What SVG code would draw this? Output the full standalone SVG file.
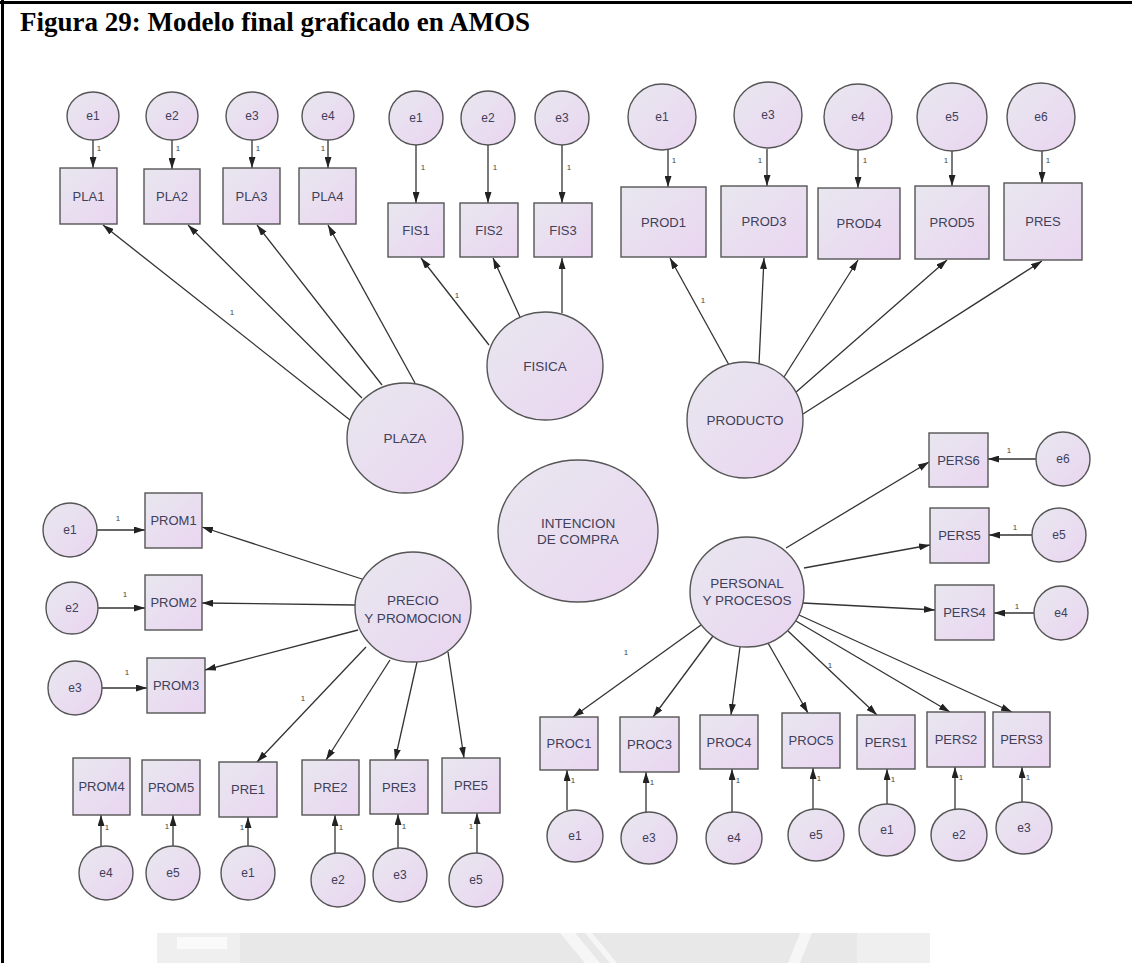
<svg xmlns="http://www.w3.org/2000/svg" width="1132" height="963" viewBox="0 0 1132 963">
  <defs>
    <linearGradient id="fillNode" x1="0" y1="0" x2="1" y2="1">
      <stop offset="0" stop-color="#e8e7ef"/>
      <stop offset="1" stop-color="#ead5f1"/>
    </linearGradient>
    <marker id="ah" markerUnits="userSpaceOnUse" markerWidth="11" markerHeight="7" refX="11" refY="3.5" orient="auto">
      <path d="M0,0 L11,3.5 L0,7 Z" fill="#222"/>
    </marker>
    <style>
      .lat { fill: url(#fillNode); stroke: #555; stroke-width: 1.4; }
      .obs { fill: url(#fillNode); stroke: #555; stroke-width: 1.4; }
      .err { fill: url(#fillNode); stroke: #555; stroke-width: 1.4; }
      .t { font-family: "Liberation Sans", Arial, sans-serif; fill: #40405a; text-anchor: middle; dominant-baseline: central; }
      .tb { font-size: 13px; }
      .tl { font-size: 13.5px; }
      .te { font-size: 12px; }
      .one { font-family: "Liberation Sans", Arial, sans-serif; font-size: 8px; fill: #444; text-anchor: middle; dominant-baseline: central; }
      .c line { stroke: #333; stroke-width: 1.3; marker-end: url(#ah); }
      .title { font-family: "Liberation Serif", "Times New Roman", serif; font-weight: bold; font-size: 27px; fill: #000; }
    </style>
  </defs>

  <rect width="1132" height="963" fill="#ffffff"/>

  <!-- faint watermark at the foot of the page -->
  <g id="watermark">
    <rect x="157" y="933" width="83" height="30" fill="#efefef"/>
    <rect x="177" y="937" width="50" height="12" fill="#fafafa"/>
    <rect x="240" y="933" width="690" height="30" fill="#e8e8e8"/>
    <path d="M560,933 L575,933 L600,963 L585,963 Z M585,933 L592,933 L617,963 L610,963 Z M800,933 L812,933 L800,963 L788,963 Z" fill="#f6f6f6"/>
    <rect x="857" y="933" width="73" height="30" fill="#efefef"/>
  </g>

  <!-- page frame -->
  <rect x="0" y="1" width="1132" height="3" fill="#000"/>
  <rect x="1" y="0" width="3" height="963" fill="#000"/>

  <text class="title" x="20" y="31">Figura 29: Modelo final graficado en AMOS</text>

  <!-- connectors -->
  <g id="connectors" class="c">
    <!-- PLAZA -->
    <line x1="93" y1="140" x2="93" y2="168"/>
    <line x1="172" y1="140" x2="172" y2="169"/>
    <line x1="252" y1="140" x2="252" y2="168"/>
    <line x1="328" y1="140" x2="328" y2="168"/>
    <line x1="350" y1="420" x2="103" y2="225"/>
    <line x1="362" y1="398" x2="188" y2="225"/>
    <line x1="382" y1="385" x2="257" y2="225"/>
    <line x1="415" y1="383" x2="328" y2="225"/>
    <!-- FISICA -->
    <line x1="416" y1="145" x2="416" y2="203"/>
    <line x1="488" y1="145" x2="488" y2="203"/>
    <line x1="562" y1="145" x2="562" y2="203"/>
    <line x1="489" y1="345" x2="421" y2="258"/>
    <line x1="520" y1="317" x2="493" y2="258"/>
    <line x1="562" y1="313" x2="562" y2="258"/>
    <!-- PRODUCTO -->
    <line x1="668" y1="150" x2="668" y2="187"/>
    <line x1="767" y1="149" x2="767" y2="186"/>
    <line x1="858" y1="150" x2="858" y2="188"/>
    <line x1="952" y1="151" x2="952" y2="186"/>
    <line x1="1042" y1="151" x2="1042" y2="183"/>
    <line x1="729" y1="365" x2="670" y2="258"/>
    <line x1="759" y1="364" x2="764" y2="258"/>
    <line x1="784" y1="377" x2="858" y2="260"/>
    <line x1="795" y1="393" x2="947" y2="260"/>
    <line x1="803" y1="414" x2="1042" y2="261"/>
    <!-- PERSONAL Y PROCESOS -->
    <line x1="1036" y1="459" x2="988" y2="459"/>
    <line x1="1032" y1="535" x2="989" y2="535"/>
    <line x1="1034" y1="613" x2="994" y2="613"/>
    <line x1="786" y1="548" x2="929" y2="462"/>
    <line x1="804" y1="568" x2="930" y2="545"/>
    <line x1="803" y1="603" x2="935" y2="610"/>
    <line x1="701" y1="625" x2="573" y2="717"/>
    <line x1="713" y1="636" x2="653" y2="717"/>
    <line x1="740" y1="647" x2="731" y2="715"/>
    <line x1="768" y1="643" x2="808" y2="713"/>
    <line x1="788" y1="631" x2="877" y2="715"/>
    <line x1="796" y1="621" x2="950" y2="712"/>
    <line x1="799" y1="615" x2="1012" y2="712"/>
    <line x1="567" y1="810" x2="567" y2="770"/>
    <line x1="646" y1="812" x2="646" y2="772"/>
    <line x1="732" y1="812" x2="732" y2="769"/>
    <line x1="813" y1="809" x2="813" y2="768"/>
    <line x1="887" y1="804" x2="887" y2="769"/>
    <line x1="955" y1="809" x2="955" y2="767"/>
    <line x1="1022" y1="802" x2="1022" y2="767"/>
    <!-- PRECIO Y PROMOCION -->
    <line x1="97" y1="530" x2="145" y2="530"/>
    <line x1="98" y1="608" x2="145" y2="608"/>
    <line x1="102" y1="688" x2="147" y2="688"/>
    <line x1="365" y1="580" x2="202" y2="527"/>
    <line x1="355" y1="605" x2="202" y2="603"/>
    <line x1="358" y1="630" x2="205" y2="670"/>
    <line x1="366" y1="647" x2="257" y2="762"/>
    <line x1="390" y1="660" x2="326" y2="760"/>
    <line x1="417" y1="662" x2="395" y2="760"/>
    <line x1="448" y1="652" x2="464" y2="758"/>
    <line x1="101" y1="846" x2="101" y2="815"/>
    <line x1="173" y1="846" x2="173" y2="815"/>
    <line x1="248" y1="846" x2="248" y2="817"/>
    <line x1="335" y1="853" x2="335" y2="815"/>
    <line x1="398" y1="848" x2="398" y2="814"/>
    <line x1="477" y1="853" x2="477" y2="813"/>
  </g>

  <!-- regression weight labels -->
  <g id="weights">
    <text class="one" x="99" y="148">1</text>
    <text class="one" x="178" y="148">1</text>
    <text class="one" x="258" y="148">1</text>
    <text class="one" x="323" y="148">1</text>
    <text class="one" x="232" y="312">1</text>
    <text class="one" x="423" y="167">1</text>
    <text class="one" x="495" y="167">1</text>
    <text class="one" x="569" y="167">1</text>
    <text class="one" x="457" y="295">1</text>
    <text class="one" x="674" y="160">1</text>
    <text class="one" x="760" y="160">1</text>
    <text class="one" x="865" y="160">1</text>
    <text class="one" x="946" y="160">1</text>
    <text class="one" x="1048" y="160">1</text>
    <text class="one" x="703" y="300">1</text>
    <text class="one" x="1009" y="450">1</text>
    <text class="one" x="1015" y="527">1</text>
    <text class="one" x="1017" y="606">1</text>
    <text class="one" x="626" y="652">1</text>
    <text class="one" x="830" y="665">1</text>
    <text class="one" x="573" y="780">1</text>
    <text class="one" x="652" y="782">1</text>
    <text class="one" x="738" y="780">1</text>
    <text class="one" x="819" y="778">1</text>
    <text class="one" x="893" y="779">1</text>
    <text class="one" x="961" y="777">1</text>
    <text class="one" x="1028" y="777">1</text>
    <text class="one" x="118" y="518">1</text>
    <text class="one" x="125" y="594">1</text>
    <text class="one" x="127" y="672">1</text>
    <text class="one" x="303" y="698">1</text>
    <text class="one" x="107" y="827">1</text>
    <text class="one" x="167" y="826">1</text>
    <text class="one" x="242" y="827">1</text>
    <text class="one" x="341" y="827">1</text>
    <text class="one" x="404" y="826">1</text>
    <text class="one" x="471" y="826">1</text>
  </g>

  <!-- PLAZA block -->
  <g id="n-plaza"><ellipse class="lat" cx="405" cy="438" rx="58" ry="55"/><text class="t tl" x="405" y="438">PLAZA</text></g>
  <g id="n-pla1"><rect class="obs" x="60" y="168" width="57" height="56"/><text class="t tb" x="88.5" y="196">PLA1</text></g>
  <g id="n-pla2"><rect class="obs" x="144" y="169" width="56" height="55"/><text class="t tb" x="172" y="196.5">PLA2</text></g>
  <g id="n-pla3"><rect class="obs" x="223" y="168" width="57" height="56"/><text class="t tb" x="251.5" y="196">PLA3</text></g>
  <g id="n-pla4"><rect class="obs" x="299" y="168" width="57" height="56"/><text class="t tb" x="327.5" y="196">PLA4</text></g>
  <g id="n-pla-e1"><ellipse class="err" cx="93" cy="116" rx="26" ry="24"/><text class="t te" x="93" y="116">e1</text></g>
  <g id="n-pla-e2"><ellipse class="err" cx="172" cy="116" rx="26" ry="24"/><text class="t te" x="172" y="116">e2</text></g>
  <g id="n-pla-e3"><ellipse class="err" cx="252" cy="116" rx="26" ry="24"/><text class="t te" x="252" y="116">e3</text></g>
  <g id="n-pla-e4"><ellipse class="err" cx="328" cy="116" rx="26" ry="24"/><text class="t te" x="328" y="116">e4</text></g>

  <!-- FISICA block -->
  <g id="n-fisica"><ellipse class="lat" cx="545" cy="366" rx="58" ry="54"/><text class="t tl" x="545" y="366">FISICA</text></g>
  <g id="n-fis1"><rect class="obs" x="388" y="203" width="56" height="54"/><text class="t tb" x="416" y="230">FIS1</text></g>
  <g id="n-fis2"><rect class="obs" x="460" y="203" width="58" height="54"/><text class="t tb" x="489" y="230">FIS2</text></g>
  <g id="n-fis3"><rect class="obs" x="534" y="203" width="58" height="54"/><text class="t tb" x="563" y="230">FIS3</text></g>
  <g id="n-fis-e1"><ellipse class="err" cx="416" cy="118" rx="27" ry="27"/><text class="t te" x="416" y="118">e1</text></g>
  <g id="n-fis-e2"><ellipse class="err" cx="488" cy="118" rx="27" ry="27"/><text class="t te" x="488" y="118">e2</text></g>
  <g id="n-fis-e3"><ellipse class="err" cx="562" cy="118" rx="27" ry="27"/><text class="t te" x="562" y="118">e3</text></g>

  <!-- PRODUCTO block -->
  <g id="n-producto"><ellipse class="lat" cx="745" cy="420" rx="58" ry="58"/><text class="t tl" x="745" y="420">PRODUCTO</text></g>
  <g id="n-prod1"><rect class="obs" x="621" y="187" width="85" height="70"/><text class="t tb" x="663.5" y="222">PROD1</text></g>
  <g id="n-prod3"><rect class="obs" x="721" y="186" width="86" height="71"/><text class="t tb" x="764" y="221.5">PROD3</text></g>
  <g id="n-prod4"><rect class="obs" x="818" y="188" width="82" height="71"/><text class="t tb" x="859" y="223.5">PROD4</text></g>
  <g id="n-prod5"><rect class="obs" x="915" y="186" width="74" height="73"/><text class="t tb" x="952" y="222.5">PROD5</text></g>
  <g id="n-pres"><rect class="obs" x="1004" y="183" width="78" height="77"/><text class="t tb" x="1043" y="221.5">PRES</text></g>
  <g id="n-prod-e1"><ellipse class="err" cx="662" cy="117" rx="34" ry="33"/><text class="t te" x="662" y="117">e1</text></g>
  <g id="n-prod-e3"><ellipse class="err" cx="768" cy="115" rx="34" ry="33"/><text class="t te" x="768" y="115">e3</text></g>
  <g id="n-prod-e4"><ellipse class="err" cx="858" cy="117" rx="34" ry="33"/><text class="t te" x="858" y="117">e4</text></g>
  <g id="n-prod-e5"><ellipse class="err" cx="952" cy="117" rx="35" ry="34"/><text class="t te" x="952" y="117">e5</text></g>
  <g id="n-prod-e6"><ellipse class="err" cx="1041" cy="117" rx="34" ry="34"/><text class="t te" x="1041" y="117">e6</text></g>

  <!-- INTENCION DE COMPRA -->
  <g id="n-intencion"><ellipse class="lat" cx="578" cy="531" rx="80" ry="71"/><text class="t tl" x="578" y="523">INTENCION</text><text class="t tl" x="578" y="539">DE COMPRA</text></g>

  <!-- PERSONAL Y PROCESOS block -->
  <g id="n-personal"><ellipse class="lat" cx="747" cy="592" rx="57" ry="55"/><text class="t tl" x="747" y="583">PERSONAL</text><text class="t tl" x="747" y="600">Y PROCESOS</text></g>
  <g id="n-pers6"><rect class="obs" x="929" y="433" width="59" height="54"/><text class="t tb" x="958.5" y="460">PERS6</text></g>
  <g id="n-pers5"><rect class="obs" x="930" y="508" width="59" height="55"/><text class="t tb" x="959.5" y="535.5">PERS5</text></g>
  <g id="n-pers4"><rect class="obs" x="935" y="585" width="59" height="55"/><text class="t tb" x="964.5" y="612.5">PERS4</text></g>
  <g id="n-pers6-e"><ellipse class="err" cx="1063" cy="459" rx="27" ry="27"/><text class="t te" x="1063" y="459">e6</text></g>
  <g id="n-pers5-e"><ellipse class="err" cx="1059" cy="535" rx="27" ry="27"/><text class="t te" x="1059" y="535">e5</text></g>
  <g id="n-pers4-e"><ellipse class="err" cx="1061" cy="613" rx="27" ry="27"/><text class="t te" x="1061" y="613">e4</text></g>
  <g id="n-proc1"><rect class="obs" x="540" y="717" width="58" height="53"/><text class="t tb" x="569" y="743.5">PROC1</text></g>
  <g id="n-proc3"><rect class="obs" x="620" y="717" width="59" height="55"/><text class="t tb" x="649.5" y="744.5">PROC3</text></g>
  <g id="n-proc4"><rect class="obs" x="700" y="715" width="58" height="54"/><text class="t tb" x="729" y="742">PROC4</text></g>
  <g id="n-proc5"><rect class="obs" x="782" y="713" width="58" height="55"/><text class="t tb" x="811" y="740.5">PROC5</text></g>
  <g id="n-pers1"><rect class="obs" x="857" y="715" width="58" height="54"/><text class="t tb" x="886" y="742">PERS1</text></g>
  <g id="n-pers2"><rect class="obs" x="927" y="712" width="58" height="55"/><text class="t tb" x="956" y="739.5">PERS2</text></g>
  <g id="n-pers3"><rect class="obs" x="993" y="712" width="57" height="55"/><text class="t tb" x="1021.5" y="739.5">PERS3</text></g>
  <g id="n-proc1-e"><ellipse class="err" cx="575" cy="836" rx="28" ry="26"/><text class="t te" x="575" y="836">e1</text></g>
  <g id="n-proc3-e"><ellipse class="err" cx="649" cy="838" rx="28" ry="26"/><text class="t te" x="649" y="838">e3</text></g>
  <g id="n-proc4-e"><ellipse class="err" cx="734" cy="838" rx="28" ry="26"/><text class="t te" x="734" y="838">e4</text></g>
  <g id="n-proc5-e"><ellipse class="err" cx="816" cy="835" rx="28" ry="26"/><text class="t te" x="816" y="835">e5</text></g>
  <g id="n-pers1-e"><ellipse class="err" cx="887" cy="830" rx="28" ry="26"/><text class="t te" x="887" y="830">e1</text></g>
  <g id="n-pers2-e"><ellipse class="err" cx="959" cy="835" rx="28" ry="26"/><text class="t te" x="959" y="835">e2</text></g>
  <g id="n-pers3-e"><ellipse class="err" cx="1024" cy="828" rx="28" ry="26"/><text class="t te" x="1024" y="828">e3</text></g>

  <!-- PRECIO Y PROMOCION block -->
  <g id="n-precio"><ellipse class="lat" cx="413" cy="607" rx="58" ry="55"/><text class="t tl" x="413" y="600">PRECIO</text><text class="t tl" x="413" y="618">Y PROMOCION</text></g>
  <g id="n-prom1"><rect class="obs" x="145" y="493" width="57" height="55"/><text class="t tb" x="173.5" y="520.5">PROM1</text></g>
  <g id="n-prom2"><rect class="obs" x="145" y="575" width="57" height="55"/><text class="t tb" x="173.5" y="602.5">PROM2</text></g>
  <g id="n-prom3"><rect class="obs" x="147" y="658" width="58" height="55"/><text class="t tb" x="176" y="685.5">PROM3</text></g>
  <g id="n-prom1-e"><ellipse class="err" cx="70" cy="530" rx="27" ry="27"/><text class="t te" x="70" y="530">e1</text></g>
  <g id="n-prom2-e"><ellipse class="err" cx="72" cy="608" rx="26" ry="26"/><text class="t te" x="72" y="608">e2</text></g>
  <g id="n-prom3-e"><ellipse class="err" cx="75" cy="688" rx="27" ry="27"/><text class="t te" x="75" y="688">e3</text></g>
  <g id="n-prom4"><rect class="obs" x="73" y="758" width="57" height="57"/><text class="t tb" x="101.5" y="786.5">PROM4</text></g>
  <g id="n-prom5"><rect class="obs" x="142" y="760" width="58" height="55"/><text class="t tb" x="171" y="787.5">PROM5</text></g>
  <g id="n-pre1"><rect class="obs" x="219" y="762" width="58" height="55"/><text class="t tb" x="248" y="789.5">PRE1</text></g>
  <g id="n-pre2"><rect class="obs" x="302" y="760" width="57" height="55"/><text class="t tb" x="330.5" y="787.5">PRE2</text></g>
  <g id="n-pre3"><rect class="obs" x="370" y="760" width="58" height="54"/><text class="t tb" x="399" y="787">PRE3</text></g>
  <g id="n-pre5"><rect class="obs" x="442" y="758" width="58" height="55"/><text class="t tb" x="471" y="785.5">PRE5</text></g>
  <g id="n-prom4-e"><ellipse class="err" cx="106" cy="873" rx="27" ry="27"/><text class="t te" x="106" y="873">e4</text></g>
  <g id="n-prom5-e"><ellipse class="err" cx="173" cy="873" rx="27" ry="27"/><text class="t te" x="173" y="873">e5</text></g>
  <g id="n-pre1-e"><ellipse class="err" cx="248" cy="873" rx="27" ry="27"/><text class="t te" x="248" y="873">e1</text></g>
  <g id="n-pre2-e"><ellipse class="err" cx="338" cy="880" rx="27" ry="27"/><text class="t te" x="338" y="880">e2</text></g>
  <g id="n-pre3-e"><ellipse class="err" cx="400" cy="875" rx="27" ry="27"/><text class="t te" x="400" y="875">e3</text></g>
  <g id="n-pre5-e"><ellipse class="err" cx="476" cy="880" rx="27" ry="27"/><text class="t te" x="476" y="880">e5</text></g>
</svg>
